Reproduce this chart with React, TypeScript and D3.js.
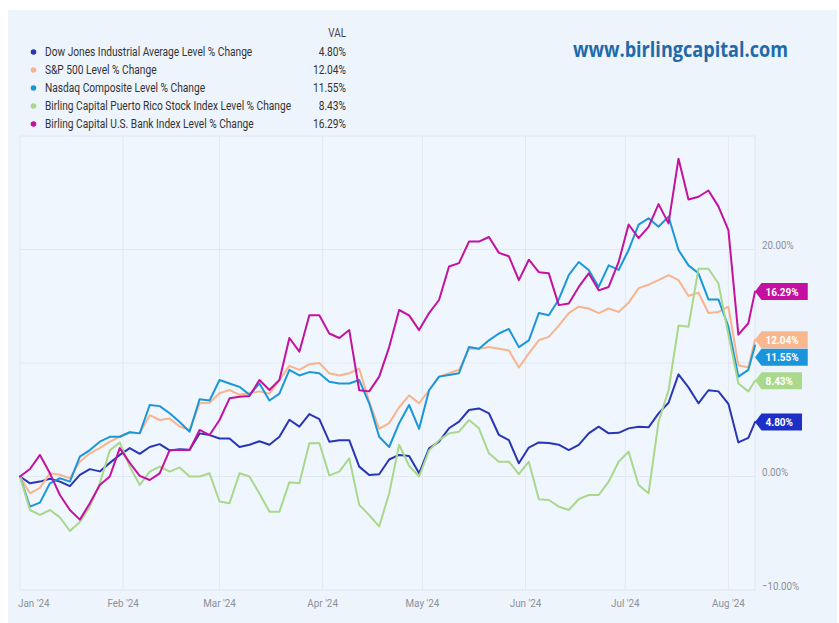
import React from "react";
import * as d3 from "d3";

// ---------- DATA ----------
const START_DATE = new Date(2024, 0, 1);
const END_DATE = new Date(2024, 7, 9);

// day offsets from Jan 1, 2024
const DAYS = [
  0, 3, 6, 9, 12, 15, 18, 21, 24, 27, 30, 33, 36, 39, 42, 45, 48, 51, 54, 57,
  60, 63, 66, 69, 72, 75, 78, 81, 84, 87, 90, 93, 96, 99, 102, 105, 108, 111,
  114, 117, 120, 123, 126, 129, 132, 135, 138, 141, 144, 147, 150, 153, 156,
  159, 162, 165, 168, 171, 174, 177, 180, 183, 186, 189, 192, 195, 198, 201,
  204, 207, 210, 213, 216, 219, 221,
];

const DOW = [
  0, -0.6, -0.45, -0.2, -0.45, -0.85, 0.15, 0.65, 0.45, 1.2,
  1.9, 2.5, 2.0, 2.6, 2.85, 2.3, 2.4, 2.35, 3.8, 3.65,
  3.35, 3.35, 2.6, 2.8, 3.1, 2.8, 3.5, 5.0, 4.4, 5.5,
  5.06, 3.07, 3.2, 3.2, 0.87, 0.13, 0.2, 1.5, 1.9, 1.8,
  0.28, 2.48, 3.07, 4.25, 4.83, 5.86, 6.0, 5.57, 3.66, 3.2,
  1.16, 2.55, 3.0, 2.95, 2.8, 2.33, 2.78, 3.8, 4.39, 3.8,
  3.85, 4.24, 4.39, 4.33, 5.56, 6.5, 9.0, 7.85, 6.45, 7.6,
  7.5, 6.4, 3.0, 3.4, 4.8,
];

const SP500 = [
  0, -1.48, -1.0, 0.28, 0.15, -0.15, 1.3, 2.04, 2.5, 3.07,
  3.5, 3.9, 3.8, 5.4, 4.98, 5.1, 4.4, 4.1, 6.45, 6.5,
  7.33, 7.62, 7.2, 7.33, 7.5, 7.3, 8.5, 9.75, 9.4, 9.9,
  10.0, 9.1, 8.9, 9.1, 9.5, 6.6, 4.2, 4.7, 6.1, 7.15,
  6.45, 7.6, 8.8, 9.1, 9.4, 11.25, 11.25, 11.4, 11.25, 11.1,
  9.6, 10.85, 12.0, 12.3, 13.3, 14.4, 14.96, 14.8, 14.4, 14.8,
  14.5, 15.3, 16.6, 16.9, 17.3, 17.75, 17.3, 15.9, 16.2, 14.4,
  14.5, 14.96, 9.8, 9.6, 12.04,
];

const NASDAQ = [
  0, -2.66, -2.3, -0.6, -0.15, -0.45, 1.75, 2.33, 3.07, 3.5,
  3.5, 3.9, 3.8, 6.3, 6.2, 5.57, 4.8, 3.95, 6.8, 6.7,
  8.5, 8.2, 7.9, 7.2, 8.2, 6.7, 7.3, 9.4, 8.9, 9.2,
  9.1, 8.35, 8.2, 8.2, 8.5, 6.45, 3.5, 2.6, 4.7, 6.3,
  4.2, 7.6, 8.8, 8.95, 9.1, 11.4, 11.25, 12.0, 12.6, 13.0,
  11.4, 12.0, 14.4, 14.2, 15.6, 17.75, 18.9, 18.2, 16.7, 18.6,
  18.2, 19.96, 22.2, 22.75, 22.0, 22.9, 19.96, 18.6, 17.9, 15.6,
  15.6, 13.2, 8.8, 9.4, 11.55,
];

const PUERTO_RICO = [
  0, -2.95, -3.39, -2.95, -3.6, -4.8, -4.0, -2.66, -0.6, 2.3,
  3.0, 0.87, -0.75, 0.43, 0.87, 0.43, 0.8, 0, 0, 0.28,
  -2.2, -2.36, 0.28, 0, -1.5, -3.1, -3.1, -0.5, -0.6, 2.92,
  2.95, 0.1, 0.43, 1.6, -2.5, -3.4, -4.4, -1.5, 2.8, 0.95,
  0, 2.3, 3.2, 3.8, 3.95, 4.98, 4.25, 2.04, 1.3, 1.3,
  0.2, 1.3, -2.0, -2.07, -2.66, -2.95, -2.0, -1.63, -1.63, -0.45,
  1.3, 2.19, -0.75, -1.48, 4.83, 7.6, 13.3, 13.2, 18.3, 18.3,
  17.0, 12.5, 8.2, 7.5, 8.43,
];

const BANK = [
  0, 0.66, 1.9, 0.28, -1.63, -2.95, -3.8, -2.36, -0.75, 0,
  2.5, 1.2, 0.05, -0.31, 0.28, 2.33, 2.33, 2.33, 4.1, 3.65,
  4.98, 6.89, 7.03, 7.1, 8.5, 7.62, 8.5, 12.2, 11.0, 14.2,
  14.2, 12.6, 12.2, 12.9, 7.6, 7.5, 8.8, 11.4, 14.67, 14.2,
  12.9, 14.4, 15.55, 18.5, 18.8, 20.7, 20.7, 21.1, 19.7, 19.4,
  17.3, 19.1, 18.0, 17.9, 15.1, 15.25, 16.7, 17.9, 16.4, 16.7,
  18.9, 22.2, 21.0, 22.0, 24.0, 22.3, 28.0, 24.4, 24.65, 25.2,
  23.8, 21.7, 12.5, 13.5, 16.29,
];

const SERIES_NAMES = [
  "Dow Jones Industrial Average Level % Change",
  "S&P 500 Level % Change",
  "Nasdaq Composite Level % Change",
  "Birling Capital Puerto Rico Stock Index Level % Change",
  "Birling Capital U.S. Bank Index Level % Change",
];
const SERIES_VALUES = [DOW, SP500, NASDAQ, PUERTO_RICO, BANK];
const SERIES_COLORS = ["#2836b6", "#f7b48d", "#1b97d8", "#a9d78b", "#c3129e"];
const TAG_COLORS = ["#1d30c6", "#f9b78f", "#1a95dc", "#aad98c", "#c40fa0"];
const LEGEND_VALUES = ["4.80%", "12.04%", "11.55%", "8.43%", "16.29%"];

const MONTH_TICKS = [
  new Date(2024, 0, 1), new Date(2024, 1, 1), new Date(2024, 2, 1),
  new Date(2024, 3, 1), new Date(2024, 4, 1), new Date(2024, 5, 1),
  new Date(2024, 6, 1), new Date(2024, 7, 1),
];
const MONTH_LABELS = ["Jan '24", "Feb '24", "Mar '24", "Apr '24", "May '24", "Jun '24", "Jul '24", "Aug '24"];
const Y_GRID = [0, 10, 20];
const Y_LABELS = [-10, 0, 20];

// ---------- LAYOUT ----------
const W = 839;
const H = 623;
const PL = 20, PR = 755, PT = 136, PB = 590;

function T(props: any) {
  const { x, y, size = 11.5, sx = 0.85, anchor = "start", fill = "#333", weight = 400, family = "Roboto", children } = props;
  return (
    <text
      transform={`translate(${x},${y}) scale(${sx},1)`}
      fontSize={size}
      textAnchor={anchor}
      fill={fill}
      fontWeight={weight}
      fontFamily={family}
    >
      {children}
    </text>
  );
}

function measure(s: string, font: string) {
  try {
    const c = document.createElement("canvas").getContext("2d");
    if (c) {
      c.font = font;
      return c.measureText(s).width;
    }
  } catch (e) {}
  return s.length * 6.5;
}

export default function App() {
  const x = d3.scaleTime().domain([START_DATE, END_DATE]).range([PL, PR]);
  const y = d3.scaleLinear().domain([-10, 30]).range([PB, PT]);
  const dates = DAYS.map((d) => d3.timeDay.offset(START_DATE, d));
  const line = d3
    .line<number>()
    .x((_, i) => x(dates[i]))
    .y((v) => y(v));

  // end tags with simple collision avoidance
  const tagH = 17.5;
  const tags = SERIES_VALUES.map((vals, i) => ({ i, y: y(vals[vals.length - 1]) }));
  const sorted = [...tags].sort((a, b) => a.y - b.y);
  for (let k = 1; k < sorted.length; k++) {
    if (sorted[k].y - sorted[k - 1].y < tagH) sorted[k].y = sorted[k - 1].y + tagH;
  }
  const tagSx = 0.87;

  return (
    <svg width={W} height={H} style={{ position: "absolute", left: 0, top: 0, display: "block" }}>
      <rect x={0} y={0} width={W} height={H} fill="#ffffff" />
      <rect x={8} y={10} width={829} height={H - 10} fill="#eef4fc" />

      {/* legend */}
      <T x={346} y={37} anchor="end" size={12} sx={0.82} fill="#444">VAL</T>
      {SERIES_NAMES.map((name, i) => (
        <g key={name}>
          <circle cx={33.5} cy={52 + i * 18} r={2.8} fill={SERIES_COLORS[i]} />
          <T x={45} y={56.3 + i * 18} size={12.5} sx={0.815} fill="#333">{name}</T>
          <T x={346} y={56.3 + i * 18} size={12.5} sx={0.815} anchor="end" fill="#333">{LEGEND_VALUES[i]}</T>
        </g>
      ))}

      {/* watermark */}
      <text
        x={573}
        y={57}
        fontFamily="'Open Sans', 'DejaVu Sans', sans-serif"
        fontWeight={700}
        fontSize={21}
        fill="#1f6aa8"
        textLength={215}
        lengthAdjust="spacingAndGlyphs"
      >
        www.birlingcapital.com
      </text>

      {/* plot area */}
      <rect x={PL} y={PT} width={PR - PL} height={PB - PT} fill="#f0f6fe" stroke="#e1e8f1" strokeWidth={1} />
      {MONTH_TICKS.slice(1).map((d, i) => (
        <line key={i} x1={x(d)} x2={x(d)} y1={PT} y2={PB} stroke="#e3e9f2" strokeWidth={1} />
      ))}
      {Y_GRID.map((v) => (
        <line key={v} x1={PL} x2={PR} y1={y(v)} y2={y(v)} stroke="#e3e9f2" strokeWidth={1} />
      ))}

      {/* x labels */}
      {MONTH_TICKS.map((d, i) => (
        <T
          key={i}
          x={i === 0 ? 18 : x(d)}
          y={607}
          anchor={i === 0 ? "start" : "middle"}
          size={11.5}
          sx={0.86}
          fill="#8b9099"
        >
          {MONTH_LABELS[i]}
        </T>
      ))}

      {/* y labels */}
      {Y_LABELS.map((v) => (
        <T key={v} x={762} y={y(v) - 0.5} size={11.5} sx={0.85} fill="#8b9099">
          {`${d3.format(".2f")(v)}%`}
        </T>
      ))}

      {/* lines */}
      {SERIES_VALUES.map((vals, i) => (
        <path
          key={i}
          d={line(vals) || ""}
          fill="none"
          stroke={SERIES_COLORS[i]}
          strokeWidth={2}
          strokeLinejoin="round"
          strokeLinecap="round"
        />
      ))}

      {/* end tags */}
      {tags.map((t) => {
        const label = LEGEND_VALUES[t.i];
        const tw = measure(label, "bold 11.5px Roboto") * tagSx;
        const x0 = PR;
        const bx = x0 + 6.5;
        const bw = tw + 13;
        const cy = t.y;
        const h2 = 8.5;
        const pts = [
          [x0, cy],
          [bx, cy - h2],
          [bx + bw, cy - h2],
          [bx + bw, cy + h2],
          [bx, cy + h2],
        ]
          .map((p) => p.join(","))
          .join(" ");
        return (
          <g key={t.i}>
            <polygon points={pts} fill={TAG_COLORS[t.i]} />
            <T x={bx + 4} y={cy + 4} size={11.5} sx={tagSx} weight={700} fill="#ffffff">
              {label}
            </T>
          </g>
        );
      })}
    </svg>
  );
}
